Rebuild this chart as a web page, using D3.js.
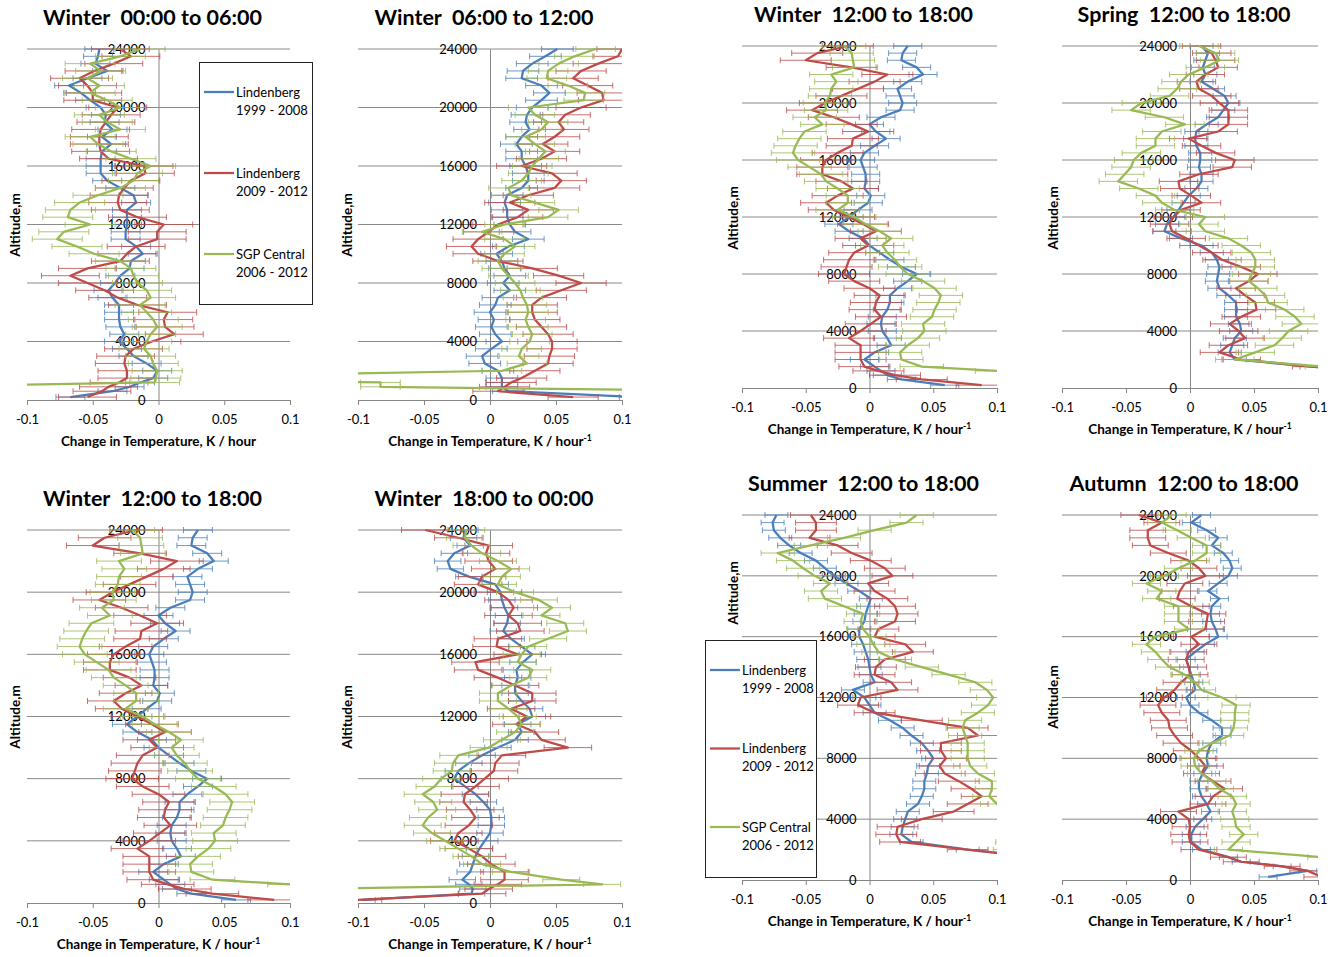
<!DOCTYPE html>
<html>
<head>
<meta charset="utf-8">
<script src="https://cdn.jsdelivr.net/npm/d3@7"></script>
<style>
  body { margin: 0; background: #fff; }
  svg { display: block; font-family: Lato, "Open Sans", sans-serif; }
</style>
</head>
<body>
<div id="chart"></div>
<script>
// altitude levels in metres, top to bottom
const altitudes = [24000, 23500, 23000, 22500, 22000, 21500, 21000, 20500, 20000, 19500,
  19000, 18500, 18000, 17500, 17000, 16500, 16000, 15500, 15000, 14500,
  14000, 13500, 13000, 12500, 12000, 11500, 11000, 10500, 10000, 9500,
  9000, 8500, 8000, 7500, 7000, 6500, 6000, 5500, 5000, 4500,
  4000, 3500, 3000, 2500, 2000, 1500, 1200, 900, 600, 200];

// temperature change in thousandths of K / hour, one value per altitude level
const winter0006Lind99 = [-45,-46,-48,-39,-54,-68,-59,-52,-44,-40, -41,-35,-43,-36,-43,-44,-44,-44,-39,-29, -19,-17,-24,-24,-24,-25,-25,-17,-12,-21, -22,-29,-33,-38,-35,-30,-30,-30,-29,-26, -30,-24,-19,-9,-1,-4,-14,-22,-35,-67];
const winter0006Lind09 = [-29,-21,-34,-49,-60,-54,-50,-50,-31,-36, -40,-44,-45,-45,-44,-38,-11,-10,-21,-26, -30,-31,-29,-16,4,-1,-1,-17,-24,-29, -54,-67,-54,-41,-31,-16,7,4,5,12, -5,-19,-25,-26,-24,-24,-30,-38,-43,-54];
const winter0006Sgp = [-14,-29,-52,-44,-54,-45,-52,-39,-29,-45, -39,-29,-52,-46,-36,-21,-6,-16,-19,-29, -46,-60,-67,-69,-52,-72,-77,-62,-49,-29, -21,-19,-16,-9,-6,-14,-9,-4,-1,-6, -9,-11,-6,-4,-1,-2,-3,-200,null,null];

const winter0612Lind99 = [51,42,32,25,24,39,45,39,32,28, 27,30,24,20,24,24,27,29,29,24, 13,11,13,13,15,19,29,14,5,9, 11,15,10,15,6,4,0,3,1,4, 9,1,-6,-4,6,9,9,9,14,110];
const winter0612Lind09 = [100,97,82,69,63,74,85,86,69,57, 52,56,49,40,49,39,24,47,54,49, 29,15,29,21,6,-1,-9,-14,-9,6, 32,52,69,54,39,32,32,34,39,44, 47,47,45,44,34,24,16,11,6,63];
const winter0612Sgp = [80,64,52,44,43,59,72,71,29,34, 44,39,27,34,42,37,32,29,24,14, 16,34,52,44,11,-6,11,19,11,6, 9,14,19,23,25,28,29,27,29,32, 30,24,22,28,9,-300,-83,-83,200,null];

const winter1218Lind99 = [30,26,25,37,42,30,22,24,26,24, 9,0,5,13,4,-4,-7,-5,-3,-3, -4,1,-1,-9,-16,-24,-16,-5,0,8, 16,25,37,30,22,16,16,14,10,9, 10,14,17,4,-4,4,9,14,25,59];
const winter1218Lind09 = [-17,-41,-50,-14,14,4,-9,-22,-35,-45, -28,-14,-1,-13,-14,-25,-34,-37,-37,-22, -13,-25,-34,-28,-16,-5,5,-7,-1,-12, -16,-18,-20,-12,0,8,5,4,9,1, -7,-16,-7,-7,-7,-4,7,20,41,88];
const winter1218Sgp = [-20,-14,-13,-12,-30,-26,-30,-31,-35,-34, -43,-37,-51,-55,-58,-60,-56,-47,-38,-34, -25,-17,-17,-25,-12,-3,8,17,10,14, 20,24,30,42,51,56,54,51,49,42, 43,38,30,24,25,41,100,200,null,null];

const spring1218Lind99 = [9,14,12,10,12,9,18,27,30,26, 22,13,5,4,5,8,8,7,9,9, 5,-1,-5,-9,-13,-18,-20,-7,9,17, 21,23,22,21,23,30,36,36,36,39, 40,35,33,31,35,95,150,null,null,null];
const spring1218Lind09 = [9,17,20,22,12,5,7,17,23,30, 30,30,22,-1,9,20,35,33,7,-9, -8,1,9,-7,-13,-16,-14,-3,7,17, 25,40,53,46,36,43,51,52,40,31, 38,43,30,23,40,95,150,null,null,null];
const spring1218Sgp = [7,20,23,12,-1,-7,-10,-16,-38,-46, -20,-4,-22,-27,-27,-38,-44,-46,-51,-56, -40,-27,-22,-12,12,7,12,30,40,48, 51,51,48,46,53,59,61,74,82,87, 77,72,66,51,35,105,160,null,null,null];

const winter1800Lind99 = [-19,-20,-15,-27,-32,-30,-16,4,8,9, 11,14,13,10,16,24,32,25,20,21, 19,19,24,30,32,21,24,19,6,-6, -16,-24,-27,-19,-11,-5,0,1,1,0, -4,-8,-11,-13,-15,-21,-16,-13,-14,-97];
const winter1800Lind09 = [-49,-24,-1,-3,-1,4,-6,-9,6,14, 18,14,21,23,6,5,21,-11,-9,6, 19,32,32,16,28,20,34,39,59,9, 4,3,-4,-11,-19,-20,-15,-11,-16,-24, -27,-16,-6,1,11,11,6,-1,-6,-100];
const winter1800Sgp = [-18,-19,-14,-6,6,16,9,6,19,37, 47,39,57,59,44,29,24,21,32,29, 16,6,6,14,21,24,19,9,-1,-24, -28,-29,-37,-42,-51,-43,-40,-47,-51,-44, -34,-24,-14,-6,16,54,85,-150,null,null];

const summer1218Lind99 = [-73,-76,-75,-70,-63,-54,-42,-35,-28,-18, -8,1,-1,-3,-4,-8,-8,-5,-3,-1, 0,1,4,-13,-4,0,4,16,26,33, 41,46,50,46,45,43,43,41,38,30, 28,26,25,33,77,130,null,null,null,null];
const summer1218Lind09 = [-46,-42,-42,-47,-25,-14,1,12,18,-1, 4,14,20,22,20,7,4,28,34,12, 5,4,17,22,-7,-9,4,41,77,85, 56,56,60,55,59,70,80,88,77,66, 41,22,21,24,77,130,null,null,null,null];
const summer1218Sgp = [37,29,4,-20,-46,-72,-60,-52,-43,-31, -38,-35,-20,-5,-7,-5,0,3,7,20, 41,62,83,92,97,93,85,75,73,75, 77,77,77,79,85,96,96,94,100,117, 120,125,118,112,110,null,null,null,null,null];

const autumn1218Lind99 = [9,1,13,22,17,26,31,33,30,22, 14,23,17,16,17,20,22,12,4,-3, -1,1,3,4,-3,0,7,17,25,25, 17,14,13,14,10,7,7,9,13,16, 10,4,1,1,9,30,40,72,92,61];
const autumn1218Lind09 = [-40,-22,-33,-33,-31,-17,-1,7,12,-4, -8,-10,1,14,13,12,1,7,-1,-3, -1,0,-7,-12,-20,-25,-22,-17,-16,-12, -7,1,7,12,9,18,27,18,14,-9, -1,0,-1,0,7,30,40,72,92,103];
const autumn1218Sgp = [-14,-22,-10,1,13,13,4,-9,-20,-34, -22,-26,-9,-9,-9,-1,-27,-34,-27,-22, -16,-4,4,9,25,36,35,35,34,31, 17,7,3,4,9,17,23,33,36,33, 35,36,42,36,30,103,160,null,null,null];

// error bar half widths, thousandths of K / hour: [Lind 99-08, Lind 09-12, SGP]
const winter0006Err = [11, 22, 19];
const winter0612Err = [12, 19, 15];
const winter1218Err = [11, 20, 17];
const spring1218Err = [9, 15, 15];
const winter1800Err = [10, 18, 14];
const summer1218Err = [9, 16, 13];
const autumn1218Err = [7, 14, 11];

const seriesNames = [["Lindenberg", "1999 - 2008"], ["Lindenberg", "2009 - 2012"], ["SGP Central", "2006 - 2012"]];
const seriesColors = ["#4a7ebb", "#be4b48", "#98b954"];
const xTicks = [-0.1, -0.05, 0, 0.05, 0.1];
const yTicks = [0, 4000, 8000, 12000, 16000, 20000, 24000];

// panel layout: box = [x at -0.1, x at 0.1, y at 24000, y at 0]
const panels = [
  { title: ["Winter", "00:00 to 06:00"], data: [winter0006Lind99, winter0006Lind09, winter0006Sgp], err: winter0006Err,
    sup: false, box: [27, 290, 49, 400], yTitle: [15, 225], legend: [199, 62, 113, 242] },
  { title: ["Winter", "06:00 to 12:00"], data: [winter0612Lind99, winter0612Lind09, winter0612Sgp], err: winter0612Err,
    sup: true, box: [358, 622, 49, 400], yTitle: [347, 225] },
  { title: ["Winter", "12:00 to 18:00"], data: [winter1218Lind99, winter1218Lind09, winter1218Sgp], err: winter1218Err,
    sup: true, box: [742, 997, 46, 388], yTitle: [733, 218] },
  { title: ["Spring", "12:00 to 18:00"], data: [spring1218Lind99, spring1218Lind09, spring1218Sgp], err: spring1218Err,
    sup: true, box: [1062, 1318, 46, 388], yTitle: [1053, 218] },
  { title: ["Winter", "12:00 to 18:00"], data: [winter1218Lind99, winter1218Lind09, winter1218Sgp], err: winter1218Err,
    sup: true, box: [27, 290, 530, 903], yTitle: [15, 717] },
  { title: ["Winter", "18:00 to 00:00"], data: [winter1800Lind99, winter1800Lind09, winter1800Sgp], err: winter1800Err,
    sup: true, box: [358, 622, 530, 903], yTitle: [347, 717] },
  { title: ["Summer", "12:00 to 18:00"], data: [summer1218Lind99, summer1218Lind09, summer1218Sgp], err: summer1218Err,
    sup: true, box: [742, 997, 515, 880], yTitle: [733, 593], legend: [705, 640, 111, 237] },
  { title: ["Autumn", "12:00 to 18:00"], data: [autumn1218Lind99, autumn1218Lind09, autumn1218Sgp], err: autumn1218Err,
    sup: true, box: [1062, 1318, 515, 880], yTitle: [1053, 697] }
];

const svg = d3.select("#chart").append("svg")
  .attr("width", 1335)
  .attr("height", 957);

panels.forEach((p, pi) => {
  const [left, right, top, bottom] = p.box;
  const x = d3.scaleLinear().domain([-0.1, 0.1]).range([left, right]);
  const y = d3.scaleLinear().domain([0, 24000]).range([bottom, top]);
  const g = svg.append("g");

  g.append("clipPath").attr("id", "clip" + pi)
    .append("rect")
    .attr("x", left).attr("y", top - 10)
    .attr("width", right - left).attr("height", bottom - top + 20);

  // gridlines
  g.append("g")
    .selectAll("line")
    .data(yTicks.filter(d => d > 0))
    .join("line")
    .attr("x1", left).attr("x2", right)
    .attr("y1", d => y(d)).attr("y2", d => y(d))
    .attr("stroke", "#8a8a8a")
    .attr("stroke-width", 1);

  const xAxis = g.append("g")
    .attr("transform", `translate(0,${bottom})`)
    .call(d3.axisBottom(x).tickValues(xTicks).tickSize(5).tickSizeOuter(0).tickPadding(10)
      .tickFormat(d => String(d)));

  const yAxis = g.append("g")
    .attr("transform", `translate(${x(0)},0)`)
    .call(d3.axisLeft(y).tickValues(yTicks).tickSize(0).tickSizeOuter(0).tickPadding(13)
      .tickFormat(d3.format("d")));

  [xAxis, yAxis].forEach(a => {
    a.select(".domain").attr("stroke", "#868686");
    a.selectAll(".tick line").attr("stroke", "#868686");
    a.selectAll(".tick text").attr("fill", "#000").style("font-size", "13px").style("font-family", "Lato, sans-serif");
  });

  // titles
  g.append("text")
    .attr("x", x(0) - 6).attr("y", top - 24)
    .attr("text-anchor", "middle")
    .style("font-size", "21.5px").style("font-weight", "bold")
    .text(p.title[0] + "\u00a0 " + p.title[1]);

  const xt = g.append("text")
    .attr("x", x(0)).attr("y", bottom + 46)
    .attr("text-anchor", "middle")
    .style("font-size", "13.5px").style("font-weight", "bold")
    .text("Change in Temperature, K / hour");
  if (p.sup) xt.append("tspan").attr("dy", -5).style("font-size", "8.5px").text("-1");

  g.append("text")
    .attr("transform", `translate(${p.yTitle[0]},${p.yTitle[1]}) rotate(-90)`)
    .attr("text-anchor", "middle")
    .attr("dy", "0.35em")
    .style("font-size", "13.5px").style("font-weight", "bold")
    .text("Altitude,m");

  // series with error bars
  const plot = g.append("g").attr("clip-path", `url(#clip${pi})`);
  p.data.forEach((arr, si) => {
    const pts = altitudes.map((alt, i) => ({ alt, v: arr[i] == null ? null : arr[i] / 1000 }));
    const e = p.err[si] / 1000;
    const color = seriesColors[si];
    const bars = plot.append("g")
      .attr("stroke", color)
      .attr("stroke-opacity", 0.8)
      .attr("stroke-width", 1);
    const valid = pts.filter(d => d.v != null);
    bars.selectAll("line.bar").data(valid).join("line")
      .attr("class", "bar")
      .attr("x1", d => x(d.v - e)).attr("x2", d => x(d.v + e))
      .attr("y1", d => y(d.alt)).attr("y2", d => y(d.alt));
    bars.selectAll("line.capl").data(valid).join("line")
      .attr("class", "capl")
      .attr("x1", d => x(d.v - e)).attr("x2", d => x(d.v - e))
      .attr("y1", d => y(d.alt) - 3).attr("y2", d => y(d.alt) + 3);
    bars.selectAll("line.capr").data(valid).join("line")
      .attr("class", "capr")
      .attr("x1", d => x(d.v + e)).attr("x2", d => x(d.v + e))
      .attr("y1", d => y(d.alt) - 3).attr("y2", d => y(d.alt) + 3);

    const line = d3.line()
      .defined(d => d.v != null)
      .x(d => x(d.v))
      .y(d => y(d.alt));
    plot.append("path")
      .datum(pts)
      .attr("fill", "none")
      .attr("stroke", color)
      .attr("stroke-width", 2.25)
      .attr("stroke-linejoin", "round")
      .attr("d", line);
  });

  // legend
  if (p.legend) {
    const [lx, ly, lw, lh] = p.legend;
    const lg = g.append("g");
    lg.append("rect")
      .attr("x", lx + 0.5).attr("y", ly + 0.5)
      .attr("width", lw).attr("height", lh)
      .attr("fill", "#fff").attr("stroke", "#222");
    const step = (lh - 80) / 2;
    seriesNames.forEach((nm, i) => {
      const cy = ly + 30 + i * step;
      lg.append("line")
        .attr("x1", lx + 5).attr("x2", lx + 35)
        .attr("y1", cy).attr("y2", cy)
        .attr("stroke", seriesColors[i]).attr("stroke-width", 2.25);
      lg.append("text")
        .attr("x", lx + 37).attr("y", cy).attr("dy", "0.35em")
        .style("font-size", "13px")
        .text(nm[0]);
      lg.append("text")
        .attr("x", lx + 37).attr("y", cy + 18).attr("dy", "0.35em")
        .style("font-size", "13px")
        .text(nm[1]);
    });
  }
});
</script>
</body>
</html>
